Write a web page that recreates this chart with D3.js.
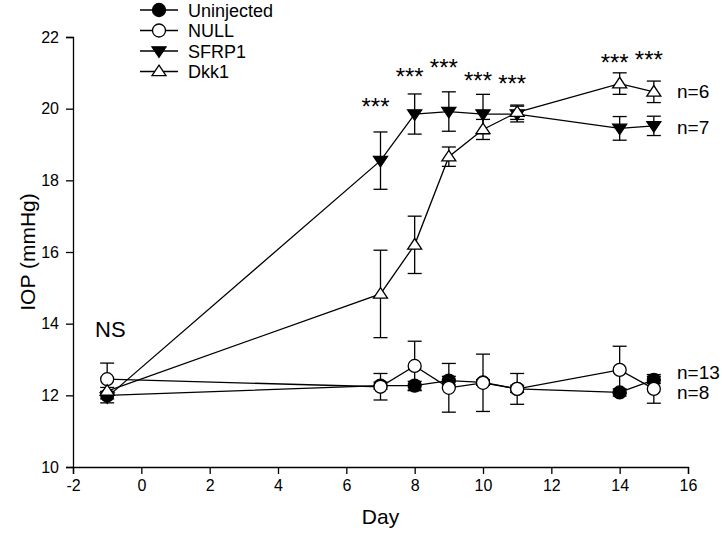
<!DOCTYPE html>
<html><head><meta charset="utf-8">
<script src="https://cdn.jsdelivr.net/npm/d3@7"></script>
<style>body{margin:0;background:#fff}svg{display:block;font-family:"Liberation Sans",Arial,sans-serif}</style>
</head><body>
<svg id="c" width="722" height="533"></svg>
<script>
const days = [-1, 7, 8, 9, 10, 11, 14, 15];
const uninjected    = [12.0, 12.27, 12.27, 12.41, 12.36, 12.18, 12.08, 12.43];
const uninjectedErr = [0.1, 0.1, 0.12, 0.12, 0.08, 0.1, 0.1, 0.1];
const nullVals      = [12.45, 12.24, 12.82, 12.21, 12.35, 12.18, 12.71, 12.18];
const nullErr       = [0.45, 0.37, 0.69, 0.68, 0.8, 0.43, 0.66, 0.4];
const sfrp1         = [11.95, 18.55, 19.85, 19.92, 19.85, 19.85, 19.45, 19.52];
const sfrp1Err      = [0.16, 0.8, 0.56, 0.55, 0.55, 0.22, 0.33, 0.27];
const dkk1          = [12.12, 14.83, 16.2, 18.66, 19.42, 19.9, 20.7, 20.47];
const dkk1Err       = [0.1, 1.22, 0.8, 0.27, 0.28, 0.2, 0.3, 0.3];
const seriesNames   = ["Uninjected", "NULL", "SFRP1", "Dkk1"];
const xTicks = [-2, 0, 2, 4, 6, 8, 10, 12, 14, 16];
const yTicks = [10, 12, 14, 16, 18, 20, 22];
const starDays   = [7, 8, 9, 10, 11, 14, 15];
const starLevels = [20.19, 21.03, 21.28, 20.92, 20.82, 21.42, 21.5];
const nLabels = ["n=6", "n=7", "n=13", "n=8"];
const nLevels = [20.5, 19.5, 12.65, 12.08];

const svg = d3.select("#c");
const x = d3.scaleLinear().domain([-2, 16]).range([73, 688]);
const y = d3.scaleLinear().domain([10, 22]).range([467, 37]);

// axes
const fmt = d => String(d);
const xAxis = svg.append("g").attr("transform", "translate(0,467)")
  .call(d3.axisBottom(x).tickValues(xTicks).tickFormat(fmt).tickSizeOuter(0).tickSize(7).tickPadding(6));
const yAxis = svg.append("g").attr("transform", "translate(73,0)")
  .call(d3.axisLeft(y).tickValues(yTicks).tickFormat(fmt).tickSizeOuter(0).tickSize(7).tickPadding(7));
[xAxis, yAxis].forEach(a => {
  a.select(".domain").attr("stroke", "#000").attr("stroke-width", 1.3);
  a.selectAll(".tick line").attr("stroke", "#000").attr("stroke-width", 1.3);
  a.selectAll(".tick text").attr("fill", "#000").attr("font-size", 16)
    .attr("font-family", "Liberation Sans, Arial, sans-serif");
});
svg.append("text").attr("x", x(7)).attr("y", 524).attr("text-anchor", "middle")
  .attr("font-size", 21).text("Day");
svg.append("text").attr("transform", `translate(35,${y(16)}) rotate(-90)`)
  .attr("text-anchor", "middle").attr("font-size", 21).text("IOP (mmHg)");

const series = [
  {name: seriesNames[0], v: uninjected, e: uninjectedErr, shape: "circle", fill: "#000"},
  {name: seriesNames[1], v: nullVals, e: nullErr, shape: "circle", fill: "#fff"},
  {name: seriesNames[2], v: sfrp1, e: sfrp1Err, shape: "down", fill: "#000"},
  {name: seriesNames[3], v: dkk1, e: dkk1Err, shape: "up", fill: "#fff"}
];

function marker(g, shape, fill, cx, cy) {
  if (shape === "circle") {
    g.append("circle").attr("cx", cx).attr("cy", cy).attr("r", 6.5)
      .attr("fill", fill).attr("stroke", "#000").attr("stroke-width", 1.3);
  } else {
    const s = 7;
    const pts = shape === "down"
      ? [[cx - s, cy - s * 0.6], [cx + s, cy - s * 0.6], [cx, cy + s * 0.9]]
      : [[cx - s, cy + s * 0.6], [cx + s, cy + s * 0.6], [cx, cy - s * 0.9]];
    g.append("polygon").attr("points", pts.map(p => p.join(",")).join(" "))
      .attr("fill", fill).attr("stroke", "#000").attr("stroke-width", 1.3);
  }
}

const line = d3.line().x(d => x(d[0])).y(d => y(d[1]));
const plot = svg.append("g");
// error bars
series.forEach(s => {
  days.forEach((d, i) => {
    const cx = x(d), top = y(s.v[i] + s.e[i]), bot = y(s.v[i] - s.e[i]);
    const g = plot.append("g").attr("stroke", "#000").attr("stroke-width", 1.3);
    g.append("line").attr("x1", cx).attr("x2", cx).attr("y1", top).attr("y2", bot);
    g.append("line").attr("x1", cx - 7).attr("x2", cx + 7).attr("y1", top).attr("y2", top);
    g.append("line").attr("x1", cx - 7).attr("x2", cx + 7).attr("y1", bot).attr("y2", bot);
  });
});
// lines
series.forEach(s => {
  plot.append("path").datum(days.map((d, i) => [d, s.v[i]])).attr("d", line)
    .attr("fill", "none").attr("stroke", "#000").attr("stroke-width", 1.3);
});
// markers
series.forEach(s => {
  days.forEach((d, i) => marker(plot, s.shape, s.fill, x(d), y(s.v[i])));
});

// stars
starDays.forEach((d, i) => {
  svg.append("text").attr("x", x(d) - 5).attr("y", y(starLevels[i]) + 13)
    .attr("text-anchor", "middle").attr("font-size", 24).text("***");
});
// n labels
nLabels.forEach((t, i) => {
  svg.append("text").attr("x", 677).attr("y", y(nLevels[i]) + 7)
    .attr("font-size", 19).text(t);
});
svg.append("text").attr("x", 95).attr("y", 337).attr("font-size", 22).text("NS");

// legend
const leg = svg.append("g");
series.forEach((s, i) => {
  const ly = 10 + i * 20.5;
  leg.append("line").attr("x1", 140).attr("x2", 178).attr("y1", ly).attr("y2", ly)
    .attr("stroke", "#000").attr("stroke-width", 1.3);
  marker(leg, s.shape, s.fill, 159, ly);
  leg.append("text").attr("x", 188).attr("y", ly + 6.5).attr("font-size", 18).text(s.name);
});
</script>
</body></html>
